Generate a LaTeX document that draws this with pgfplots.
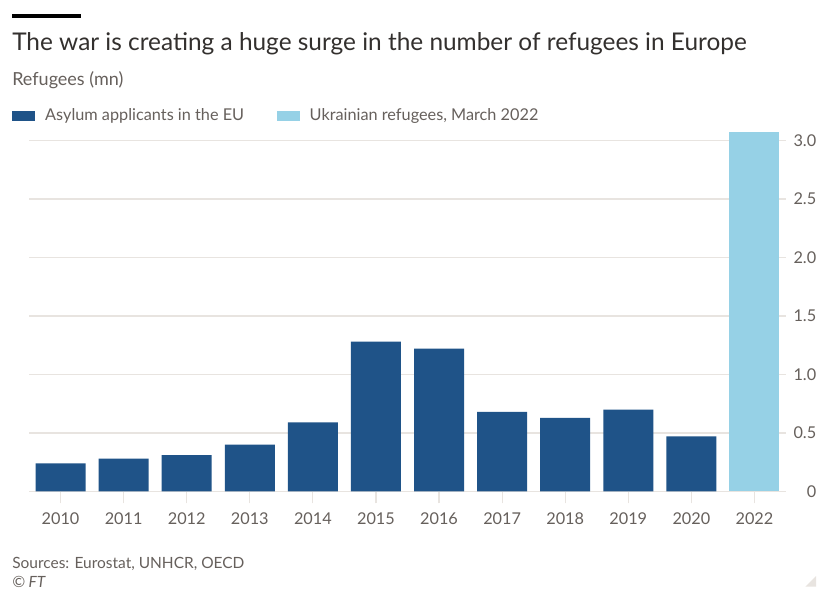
\documentclass[border=0pt]{standalone}
\usepackage{pgfplots}
\pgfplotsset{compat=1.18}
\usepackage{fontspec}
\setmainfont{Lato}
\definecolor{ftblack}{HTML}{33302E}
\definecolor{ftgrey}{HTML}{66605C}
\definecolor{gridc}{HTML}{E8E4E0}
\definecolor{darkblue}{HTML}{1F5388}
\definecolor{lightblue}{HTML}{96D1E6}
\begin{document}
\begin{tikzpicture}
\useasboundingbox[fill=white] (0pt,0pt) rectangle (616.5pt,-444pt);
\fill[black] (9pt,-10.5pt) rectangle (60.75pt,-13.5pt);
\node[anchor=base west, inner sep=0pt, text=ftblack, font=\fontsize{18.3pt}{21pt}\selectfont] at (9pt,-38pt) {The war is creating a huge surge in the number of refugees in Europe};
\node[anchor=base west, inner sep=0pt, text=ftgrey, font=\fontsize{13.5pt}{16pt}\selectfont] at (9pt,-64.5pt) {Refugees (mn)};
\node[anchor=base west, inner sep=0pt, text=ftgrey, font=\fontsize{11.6pt}{13pt}\selectfont] at (9pt,-426pt) {Sources: Eurostat, UNHCR, OECD};
\node[anchor=base west, inner sep=0pt, text=ftgrey, font=\fontsize{11.6pt}{13pt}\selectfont\itshape] at (9pt,-440.5pt) {\textcopyright\ FT};
\fill[gridc] (612pt,-440pt) -- (612pt,-432pt) -- (604pt,-440pt) -- cycle;
\begin{axis}[
  at={(21.75pt,-368.6pt)}, anchor=south west,
  scale only axis, width=567.75pt, height=270.3pt,
  ybar, bar width=37.5pt,
  xmin=-0.5, xmax=11.5, ymin=0, ymax=3.08,
  axis line style={draw=none},
  xtick={0,...,11},
  xticklabels={2010,2011,2012,2013,2014,2015,2016,2017,2018,2019,2020,2022},
  xtick pos=bottom, xtick align=outside,
  major tick length=9pt,
  xtick style={draw=gridc, line width=0.9pt},
  ytick={0,0.5,1,1.5,2,2.5,3},
  yticklabels={0,0.5,1.0,1.5,2.0,2.5,3.0},
  ytick pos=right,
  ytick style={draw=none},
  ymajorgrids, grid style={draw=gridc, line width=0.9pt},
  tick label style={text=ftgrey, font=\fontsize{12.2pt}{14pt}\selectfont},
  yticklabel style={anchor=west, align=right, text width=20pt, inner sep=0pt, xshift=2.5pt},
  xticklabel style={yshift=-3.5pt},
  legend columns=2,
  legend style={at={(-0.0225,1.07)}, anchor=north west, draw=none, fill=none, inner sep=0pt,
    font=\fontsize{12.2pt}{14pt}\selectfont, text=ftgrey,
    /tikz/every even column/.append style={column sep=17pt},
    nodes={inner xsep=7.5pt}},
  legend cell align=left,
  legend image code/.code={\fill[#1] (0pt,-3.75pt) rectangle (17.25pt,3.75pt);},
]
\addplot[fill=darkblue, draw=none, bar shift=0pt] coordinates {
(0,0.24) (1,0.28) (2,0.31) (3,0.40) (4,0.59) (5,1.28) (6,1.22) (7,0.68) (8,0.63) (9,0.70) (10,0.47)};
\addplot[fill=lightblue, draw=none, bar shift=0pt] coordinates {(11,3.07)};
\legend{Asylum applicants in the EU, {Ukrainian refugees, March 2022}}
\end{axis}
\end{tikzpicture}
\end{document}
